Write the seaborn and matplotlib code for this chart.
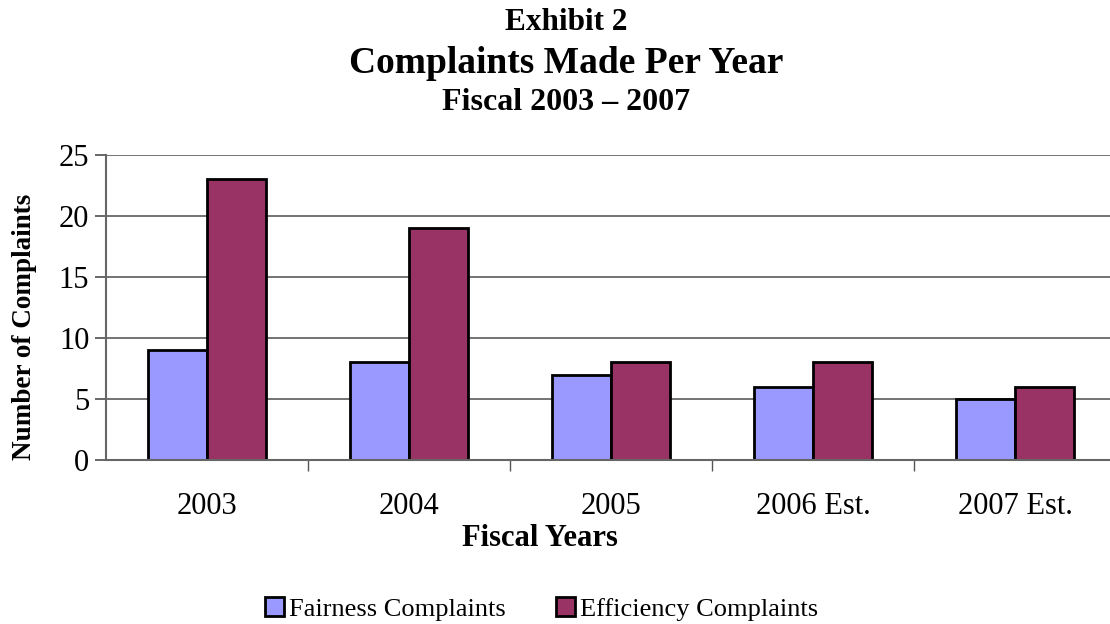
import matplotlib
matplotlib.use("Agg")
import matplotlib.pyplot as plt
import pandas as pd
import seaborn as sns
from matplotlib.patches import Patch

years = ["2003", "2004", "2005", "2006 Est.", "2007 Est."]
fairness = [9, 8, 7, 6, 5]
efficiency = [23, 19, 8, 8, 6]
series_names = ["Fairness Complaints", "Efficiency Complaints"]
colors = ["#9999FF", "#993366"]

sns.set_theme(style="white")
plt.rcParams["font.family"] = ["Liberation Serif", "DejaVu Serif"]
plt.rcParams["text.color"] = "black"
plt.rcParams["axes.labelcolor"] = "black"
plt.rcParams["xtick.color"] = "black"
plt.rcParams["ytick.color"] = "black"

df = pd.DataFrame({
    "year": years * 2,
    "count": fairness + efficiency,
    "series": [series_names[0]] * len(years) + [series_names[1]] * len(years),
})

fig = plt.figure(figsize=(11.1, 6.24), dpi=100)
ax = fig.add_axes([0.0955, 0.2628, 0.91, 0.4888])

sns.barplot(data=df, x="year", y="count", hue="series", order=years,
            hue_order=series_names, palette=colors, width=0.584, gap=0,
            edgecolor="black", linewidth=2, saturation=1, legend=False, ax=ax)

ax.set_ylim(0, 25)
ax.set_xlim(-0.5, 4.5)
ax.set_yticks(range(0, 26, 5))
ax.yaxis.grid(True, color="#4d4d4d", linewidth=1.1)
ax.set_axisbelow(True)
ax.tick_params(axis="y", labelsize=22, left=True, length=8, color="#555555", pad=4)
ax.tick_params(axis="x", labelsize=22, bottom=False, pad=17)
ax.set_xticks([0.5, 1.5, 2.5, 3.5], minor=True)
ax.tick_params(axis="x", which="minor", bottom=True, length=8, color="#555555")
for s in ["top", "right"]:
    ax.spines[s].set_visible(False)
for s in ["left", "bottom"]:
    ax.spines[s].set_color("#666666")
    ax.spines[s].set_linewidth(1.5)

ax.set_xlabel("Fiscal Years", fontsize=22, fontweight="bold")
ax.xaxis.set_label_coords(0.43, -0.21)
ax.set_ylabel("Number of Complaints", fontsize=19.5, fontweight="bold")
ax.yaxis.set_label_coords(-0.068, 0.435)

fig.text(0.51, 0.964, "Exhibit 2", ha="center", va="center", fontsize=22.5, fontweight="bold")
fig.text(0.51, 0.899, "Complaints Made Per Year", ha="center", va="center", fontsize=27, fontweight="bold")
fig.text(0.51, 0.836, "Fiscal 2003 \u2013 2007", ha="center", va="center", fontsize=23, fontweight="bold")

handles = [Patch(facecolor=c, edgecolor="black", linewidth=2) for c in colors]
fig.legend(handles, series_names, loc="center", bbox_to_anchor=(0.488, 0.024), ncol=2,
           frameon=False, fontsize=19, handlelength=0.7, handleheight=0.7,
           handletextpad=0.2, columnspacing=1.9)

fig.savefig("out.png", dpi=100)
